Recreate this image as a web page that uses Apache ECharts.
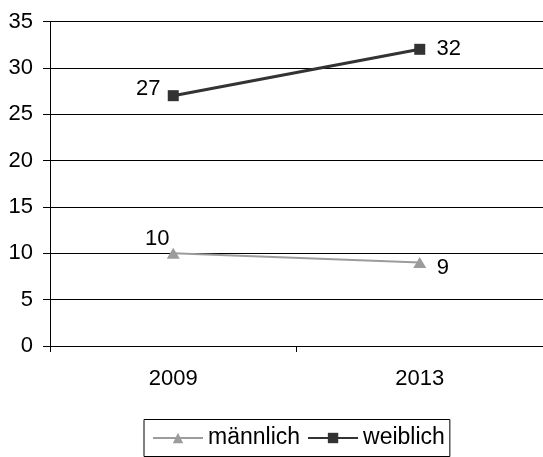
<!DOCTYPE html>
<html>
<head>
<meta charset="utf-8">
<script src="https://cdn.jsdelivr.net/npm/echarts@6/dist/echarts.min.js"></script>
<style>
html,body{margin:0;padding:0;background:#fff;}
#c{width:543px;height:457px;}
</style>
</head>
<body>
<div id="c"></div>
<script>
const categories = ['2009', '2013'];
const maennlich = [10, 9];
const weiblich = [27, 32];
const seriesNames = ['männlich', 'weiblich'];
const yTicks = [0, 5, 10, 15, 20, 25, 30, 35];

const FONT = 'Liberation Sans';
const chart = echarts.init(document.getElementById('c'), null, {renderer: 'canvas'});

const maennlichLabelOffsets = [[-16, -14], [23, 5]];
const weiblichLabelOffsets = [[-25, -6.5], [29, 0]];

function mkData(vals, offsets) {
  return vals.map((v, i) => ({
    value: v,
    label: {offset: offsets[i]}
  }));
}

chart.setOption({
  animation: false,
  backgroundColor: '#fff',
  grid: {left: 50, top: 21.5, width: 496, height: 324.5, containLabel: false},
  legend: {
    left: 144,
    top: 419.5,
    orient: 'horizontal',
    data: seriesNames,
    borderColor: '#000',
    borderWidth: 1,
    backgroundColor: '#fff',
    padding: [7, 5, 7, 8],
    itemGap: 7,
    itemWidth: 50,
    itemHeight: 13,
    textStyle: {fontFamily: FONT, fontSize: 23, color: '#000', padding: [0, 0, 0, 0]}
  },
  xAxis: {
    type: 'category',
    data: categories,
    boundaryGap: true,
    axisLine: {show: true, lineStyle: {color: '#000', width: 1}},
    axisTick: {show: true, length: 6, lineStyle: {color: '#000'}},
    axisLabel: {fontFamily: FONT, fontSize: 22, color: '#000', margin: 22},
    splitLine: {show: false}
  },
  yAxis: {
    type: 'value',
    min: yTicks[0],
    max: yTicks[yTicks.length - 1],
    interval: 5,
    axisLine: {show: true, lineStyle: {color: '#000', width: 1}},
    axisTick: {show: true, length: 7, lineStyle: {color: '#000'}},
    axisLabel: {fontFamily: FONT, fontSize: 22, color: '#000', margin: 17},
    splitLine: {show: true, lineStyle: {color: '#000', width: 1}}
  },
  series: [
    {
      name: seriesNames[0],
      type: 'line',
      data: mkData(maennlich, maennlichLabelOffsets),
      symbol: 'triangle',
      symbolSize: [13, 11],
      lineStyle: {color: '#9c9c9c', width: 2},
      itemStyle: {color: '#9c9c9c'},
      label: {show: true, position: 'inside', fontFamily: FONT, fontSize: 22, color: '#000'}
    },
    {
      name: seriesNames[1],
      type: 'line',
      data: mkData(weiblich, weiblichLabelOffsets),
      symbol: 'rect',
      symbolSize: 11,
      lineStyle: {color: '#333', width: 3},
      itemStyle: {color: '#333'},
      label: {show: true, position: 'inside', fontFamily: FONT, fontSize: 22, color: '#000'}
    }
  ]
});
</script>
</body>
</html>
